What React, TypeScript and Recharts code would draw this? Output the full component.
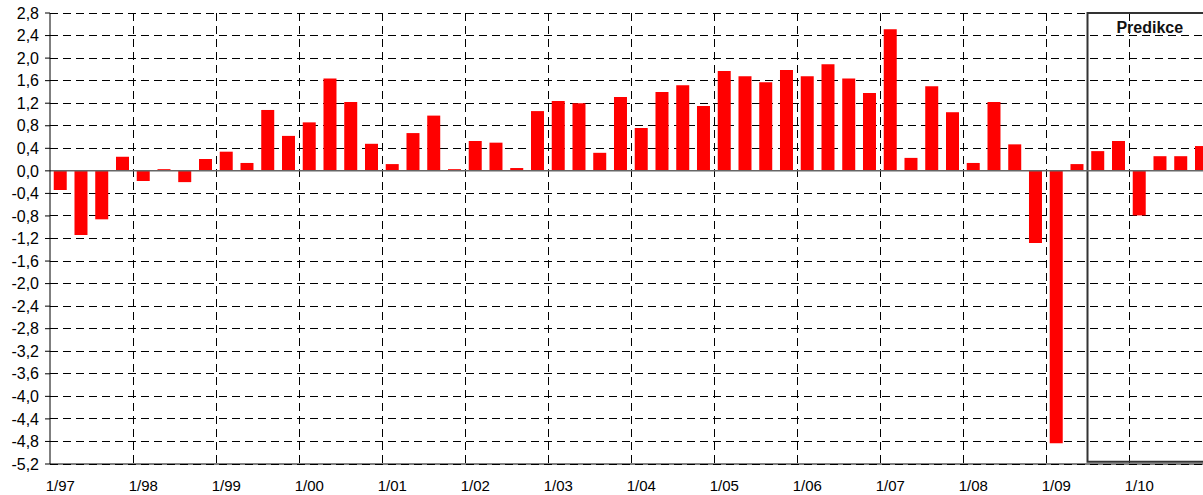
import React from 'react';
import {
  BarChart,
  Bar,
  XAxis,
  YAxis,
  CartesianGrid,
  ReferenceLine,
  ReferenceArea,
  Label,
} from 'recharts';

const quarters = [
  '1/97', '2/97', '3/97', '4/97', '1/98', '2/98', '3/98', '4/98',
  '1/99', '2/99', '3/99', '4/99', '1/00', '2/00', '3/00', '4/00',
  '1/01', '2/01', '3/01', '4/01', '1/02', '2/02', '3/02', '4/02',
  '1/03', '2/03', '3/03', '4/03', '1/04', '2/04', '3/04', '4/04',
  '1/05', '2/05', '3/05', '4/05', '1/06', '2/06', '3/06', '4/06',
  '1/07', '2/07', '3/07', '4/07', '1/08', '2/08', '3/08', '4/08',
  '1/09', '2/09', '3/09', '4/09', '1/10', '2/10', '3/10', '4/10',
];

const growth = [
  -0.34, -1.14, -0.86, 0.25, -0.18, 0.03, -0.2, 0.21,
  0.34, 0.14, 1.08, 0.62, 0.86, 1.64, 1.22, 0.48,
  0.12, 0.67, 0.98, 0.03, 0.53, 0.5, 0.05, 1.06,
  1.24, 1.2, 0.32, 1.31, 0.76, 1.4, 1.52, 1.15,
  1.77, 1.68, 1.57, 1.79, 1.68, 1.89, 1.64, 1.38,
  2.51, 0.23, 1.5, 1.04, 0.14, 1.22, 0.47, -1.28,
  -4.83, 0.12, 0.35, 0.53, -0.79, 0.26, 0.26, 0.44,
];

const yTicks = [
  2.8, 2.4, 2.0, 1.6, 1.2, 0.8, 0.4, 0.0, -0.4, -0.8, -1.2, -1.6, -2.0,
  -2.4, -2.8, -3.2, -3.6, -4.0, -4.4, -4.8, -5.2,
];

const predictionStart = '3/09';
const predictionEnd = '4/10';

const data = quarters.map((q, i) => ({ q, value: growth[i] }));

const font = 'Liberation Sans, Arial, sans-serif';

// gridlines sit between Q4 and Q1 of each year, not on the category centres
const yearBoundaries = ({ offset }: any) => {
  const step = offset.width / quarters.length;
  const xs: number[] = [];
  for (let i = 4; i < quarters.length; i += 4) xs.push(offset.left + i * step);
  return xs;
};

export default function App() {
  return (
    <div
      style={{
        position: 'fixed',
        left: 0,
        top: 0,
        width: 1203,
        height: 495,
        overflow: 'hidden',
        background: '#fff',
      }}
    >
      <BarChart
        width={1220}
        height={495}
        data={data}
        margin={{ top: 13, right: 8, bottom: 0, left: 0 }}
        barCategoryGap="18%"
      >
        <CartesianGrid
          stroke="#000"
          strokeDasharray="8 5"
          shapeRendering="crispEdges"
          verticalCoordinatesGenerator={yearBoundaries}
        />
        <XAxis
          dataKey="q"
          interval={3}
          height={31}
          tickLine={false}
          tickMargin={10}
          axisLine={{ stroke: '#000' }}
          tick={{ fill: '#000', fontSize: 15, fontFamily: font }}
        />
        <YAxis
          width={50}
          domain={[-5.2, 2.8]}
          ticks={yTicks}
          interval={0}
          tickSize={5}
          tickMargin={6}
          axisLine={{ stroke: '#000' }}
          tickLine={{ stroke: '#000' }}
          tickFormatter={(v: number) => v.toFixed(1).replace('.', ',')}
          tick={{ fill: '#000', fontSize: 16, fontFamily: font }}
        />
        <Bar dataKey="value" fill="#ff0000" isAnimationActive={false} />
        <ReferenceLine y={0} stroke="#666" strokeWidth={1.5} />
        <ReferenceArea
          x1={predictionStart}
          x2={predictionEnd}
          y1={-5.16}
          y2={2.8}
          fill="none"
          stroke="#333"
          strokeWidth={2}
        >
          <Label
            value="Predikce"
            position="insideTop"
            offset={9}
            fill="#111"
            fontSize={16}
            fontWeight="bold"
            fontFamily={font}
          />
        </ReferenceArea>
      </BarChart>
    </div>
  );
}
